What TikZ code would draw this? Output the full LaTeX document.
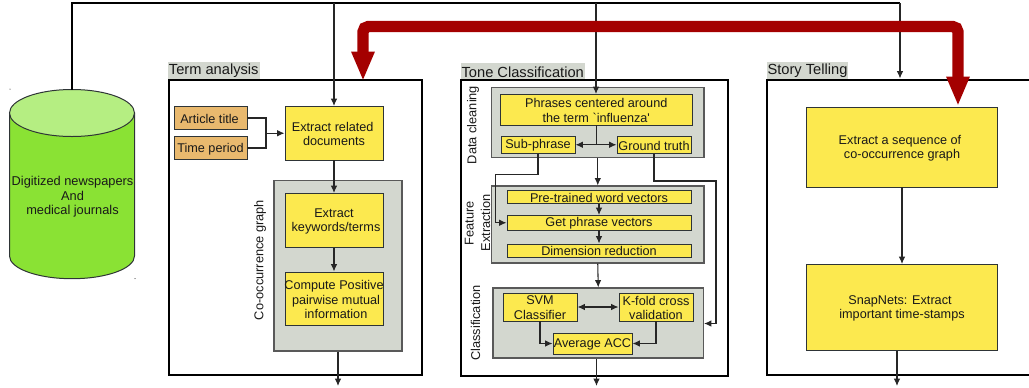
\documentclass[tikz,border=0pt]{standalone}
\usepackage{fontspec}
\setmainfont{Liberation Sans}
\newfontfamily\plainface{Liberation Sans}
\usetikzlibrary{arrows.meta,calc}
\definecolor{ygold}{HTML}{FCE94F}
\definecolor{oran}{HTML}{E9B96E}
\definecolor{alu}{HTML}{D3D7CF}
\definecolor{gr}{HTML}{8AE234}
\definecolor{grl}{HTML}{B5EE82}
\definecolor{dred}{HTML}{A40000}
\definecolor{ink}{HTML}{2E3436}
\newcommand{\plc}[7]{%
  \node[#6,minimum width={(#4-#2)*0.75pt},minimum height={(#5-#3)*0.75pt}] (#1) at ({(#2+#4)/2},{(#3+#5)/2}) {};%
  \def\plctext{#7}%
  \ifx\plctext\empty\else
    \node[#6,draw=none,fill=none] (#1text) at ($(#1.center)+(0,0.8)$) {#7};%
  \fi}
\tikzset{
  basefont/.style={font=\fontsize{9.5}{10.9}\selectfont,text=black!90,align=center,inner sep=0pt},
  yellowbox/.style={basefont,draw=ink,line width=0.7pt,fill=ygold},
  orangebox/.style={basefont,draw=ink,line width=0.7pt,fill=oran},
  graybox/.style={basefont,draw=black!65,line width=0.8pt,fill=alu},
  frame/.style={basefont,draw=black,line width=1.5pt},
  tag/.style={basefont,fill=alu,font=\fontsize{11}{12}\selectfont},
  sidelabel/.style={basefont,rotate=90,font=\fontsize{9.6}{12.5}\selectfont},
  conn/.style={draw=black!85,line width=0.8pt,-{Latex[length=5.5pt,width=4.8pt]}},
  connb/.style={draw=black!85,line width=0.8pt,{Latex[length=5.5pt,width=4.8pt]}-{Latex[length=5.5pt,width=4.8pt]}},
  wire/.style={draw=black!85,line width=0.8pt},
  bigarrow/.style={draw=dred,line width=8.5pt,rounded corners=4pt,-{Triangle[length=22pt,width=16pt]}},
}
\begin{document}
\begin{tikzpicture}[x=0.75pt,y=-0.75pt]
\path[use as bounding box,clip] (0,0) rectangle (1029,387);
% cylinder
\path[fill=gr,draw=ink,line width=0.75pt] (9.5,113) -- (9.5,256) arc[start angle=180,end angle=0,x radius=62.5,y radius=22.7] -- (134.5,113) -- cycle;
\path[fill=grl,draw=ink,line width=0.75pt] (72,113) ellipse [x radius=62.5,y radius=23.5];
\coordinate (dbtop) at (72,89.5);
\node[basefont,font=\fontsize{9.6}{10.8}\selectfont] (dblabel) at (72.5,197) {Digitized newspapers\\And\\medical journals};
\fill[black] (10,89) circle (0.5);
\fill[black] (135,278.5) circle (0.5);
% frames
\plc{termframe}{168.5}{79.5}{421.5}{375}{frame}{}
\plc{toneframe}{460.5}{80}{727.5}{376}{frame}{}
\plc{storyframe}{766.5}{79.5}{1045}{375}{frame}{}
\plc{termtag}{168}{62}{259.5}{78.5}{tag,draw=none}{Term analysis}
\plc{tonetag}{460.5}{63}{585}{79}{tag,draw=none}{Tone Classification}
\plc{storytag}{767}{62}{848}{78.5}{tag,draw=none}{Story Telling}
% term analysis
\plc{art}{174}{106.5}{247}{129.5}{orangebox}{Article title\hspace*{1.5pt}}
\plc{tim}{174}{136.5}{247}{159.5}{orangebox}{Time period}
\plc{ext}{285}{106.5}{383}{160}{yellowbox}{Extract related\hspace*{2pt}\\documents}
\plc{cooc}{274}{180.5}{402}{351}{graybox}{}
\plc{kw}{285}{193.5}{383}{247.5}{yellowbox}{Extract\\\hspace*{3pt}keywords/terms}
\plc{cmp}{285}{272}{383}{325.5}{yellowbox}{Compute Positive\\\hspace*{3pt}pairwise mutual\\\hspace*{3pt}information}
\node[sidelabel] (cooclabel) at (260,260) {Co-occurrence graph};
% tone classification
\plc{clean}{491.5}{87.5}{704}{157.5}{graybox}{}
\plc{phr}{500.5}{94.5}{692}{125}{yellowbox}{Phrases centered around\\the term {\plainface `influenza'}}
\plc{sub}{501}{136}{575}{153.5}{yellowbox}{Sub-phrase}
\plc{gt}{617}{136}{691}{153.5}{yellowbox}{Ground truth}
\plc{feat}{491.5}{186}{704}{263}{graybox}{}
\plc{pre}{507}{190.5}{691}{203.5}{yellowbox}{Pre-trained word vectors}
\plc{get}{507}{215.5}{691}{230}{yellowbox}{Get phrase vectors}
\plc{dim}{507}{244}{691}{257}{yellowbox}{Dimension reduction}
\plc{cls}{493}{288}{703.5}{358}{graybox}{}
\plc{svm}{503}{293}{577}{321}{yellowbox}{SVM\\Classifier}
\plc{kf}{619}{293}{693}{321}{yellowbox}{K-fold cross\\validation}
\plc{avg}{553}{333}{632}{354}{yellowbox}{Average ACC}
\node[sidelabel] (cleanlabel) at (473,125) {Data cleaning};
\node[sidelabel] (featlabel) at (477.5,223) {Feature\\Extraction};
\node[sidelabel] (clslabel) at (475.5,323) {Classification};
% story telling
\plc{seq}{806.5}{107.5}{997.5}{187}{yellowbox}{Extract a sequence of\hspace*{3pt}\\co-occurrence graph}
\plc{snap}{806.5}{264.5}{997.5}{350.5}{yellowbox}{SnapNets: Extract\hspace*{3pt}\\important time-stamps}
% free ends
\coordinate (jn) at (266,133.25);
\coordinate (outterm) at (338,386);
\coordinate (outtone) at (596.5,386);
\coordinate (outstory) at (897,386);
\coordinate (toprail) at (72,3);
\coordinate (topend) at (900,3);
\coordinate (storyin) at (900,78.5);
\coordinate (tonein) at (596,94);
\coordinate (subbend) at (495.5,174.5);
\coordinate (gtbend) at (716,181);
\coordinate (clsin) at (704,323.5);
\coordinate (phrjoin) at (phr.south |- sub.east);
% connectors
\draw[draw=black,line width=0.9pt] (dbtop) -- (toprail) -- (topend);
\draw[conn] (topend) -- (storyin);
\draw[conn] (ext.north |- toprail) -- (ext.north);
\draw[conn] (tonein |- toprail) -- (tonein);
\draw[wire] (art.east) -| (jn);
\draw[wire] (tim.east) -| (jn);
\draw[conn] (jn) -- (ext.west);
\draw[conn] (ext.south) -- (kw.north);
\draw[conn] (kw.south) -- (cmp.north);
\draw[conn] (cooc.south -| outterm) -- (outterm);
\draw[wire] (phr.south) -- (phrjoin);
\draw[connb] (sub.east) -- (gt.west);
\draw[conn] (clean.south) -- (feat.north);
\draw[conn] (pre.south) -- (get.north);
\draw[conn] (get.south) -- (dim.north);
\draw[conn] (feat.south) -- (cls.north);
\draw[conn] (sub.south) |- (subbend) |- (get.west);
\draw[conn] (gt.south) |- (gtbend) |- (clsin);
\draw[connb] (svm.east) -- (kf.west);
\draw[conn] (svm.south) |- (avg.west);
\draw[conn] (kf.south) |- (avg.east);
\draw[conn] (cls.south -| outtone) -- (outtone);
\draw[conn] (seq.south) -- (snap.north);
\draw[conn] (snap.south -| outstory) -- (outstory);
% red arrows
\coordinate (redl) at (363,81);
\coordinate (redr) at (958,106);
\coordinate (redjoin) at (660,26.5);
\draw[bigarrow] (redjoin) -| (redl);
\draw[bigarrow] (redjoin) -| (redr);
\end{tikzpicture}
\end{document}
